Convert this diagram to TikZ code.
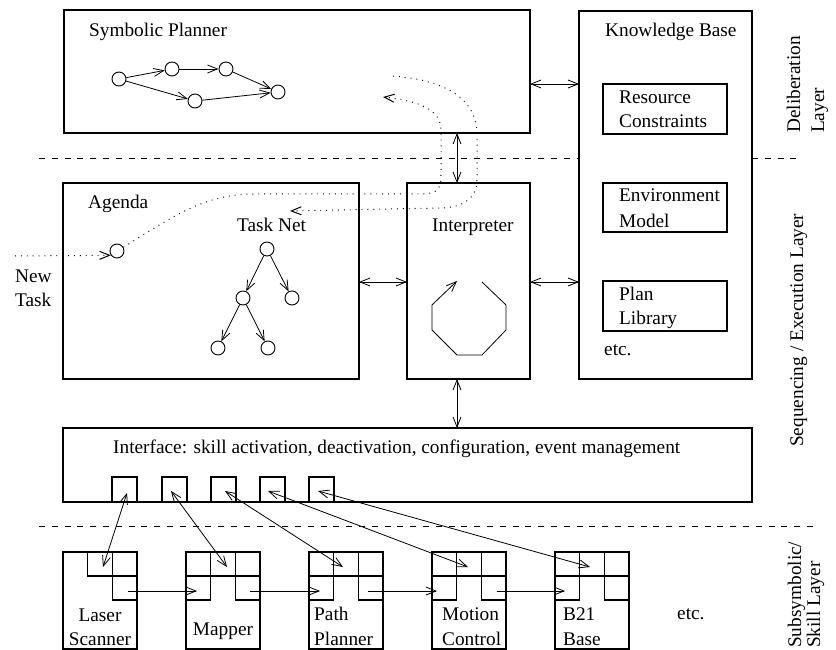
\documentclass[tikz,border=0pt]{standalone}
\usepackage{fontspec}
\setmainfont{Liberation Serif}
\usetikzlibrary{arrows.meta,calc}
\begin{document}
\begin{tikzpicture}[x=1pt,y=-1pt,
  font=\fontsize{19.3}{24}\selectfont,
  box/.style={draw, line width=1.1pt, inner sep=0pt, outer sep=0pt, anchor=north west},
  cell/.style={draw, line width=1.1pt},
  dotc/.style={circle, draw, line width=0.9pt, minimum size=14pt, inner sep=0pt},
  lbl/.style={inner sep=0pt, anchor=base west},
  lblc/.style={inner sep=0pt, anchor=base},
  conn/.style={line width=0.8pt},
  dotl/.style={line width=1pt, dash pattern=on 0.9pt off 5pt},
  layersep/.style={line width=0.9pt, dash pattern=on 6pt off 6.8pt},
  layer/.style={rotate=90, inner sep=0pt, anchor=base west},
  >={Straight Barb[length=10pt,width=8pt]}]
\useasboundingbox (0,0) rectangle (836,650);

% main boxes
\node[box, minimum width=466pt, minimum height=123pt] (planner) at (64,10) {};
\node[box, minimum width=173pt, minimum height=368pt] (kb) at (579,11) {};
\node[box, minimum width=296pt, minimum height=196pt] (agenda) at (63,183) {};
\node[box, minimum width=123pt, minimum height=196pt] (interp) at (407,183) {};
\node[box, minimum width=689pt, minimum height=74pt] (iface) at (63,428) {};
\node[box, minimum width=124pt, minimum height=50pt] (rc) at (603,84) {};
\node[box, minimum width=124pt, minimum height=49pt] (em) at (603,183) {};
\node[box, minimum width=124pt, minimum height=50pt] (pl) at (603,281) {};

% layer separators
\draw[layersep] (39,158) -- (kb.west |- 0,158);
\draw[layersep] (kb.east |- 0,158) -- (797,158);
\draw[layersep] (39,526) -- (818,526);

% texts
\node[lbl] (tsp) at (89,37) {Symbolic Planner};
\node[lbl] (tkb) at (605,37) {Knowledge Base};
\node[lbl] (tag) at (88,208) {Agenda};
\node[lbl] (ttn) at (237,232) {Task Net};
\node[lbl] (tin) at (432,232) {Interpreter};
\node[lbl] (tnew) at (15,282) {New};
\node[lbl] (ttask) at (15,306) {Task};
\node[lbl] (trc1) at (619,104) {Resource};
\node[lbl] (trc2) at (619,128) {Constraints};
\node[lbl] (tem1) at (619,202) {Environment};
\node[lbl] (tem2) at (619,227) {Model};
\node[lbl] (tpl1) at (619,300) {Plan};
\node[lbl] (tpl2) at (619,324) {Library};
\node[lbl] (tetc1) at (604,355) {etc.};
\node[lbl] (tif) at (113,453) {Interface: skill activation, deactivation, configuration, event management};

% layer labels
\node[layer] (ld1) at (800,133) {Deliberation};
\node[layer] (ld2) at (824,133) {Layer};
\node[layer] (ls) at (803,447) {Sequencing / Execution Layer};
\node[layer] (lk1) at (801,648) {Subsymbolic/};
\node[layer] (lk2) at (820,648) {Skill Layer};

% planner graph
\node[dotc] (p1) at (119,79) {};
\node[dotc] (p2) at (172,69) {};
\node[dotc] (p3) at (226,69) {};
\node[dotc] (p4) at (195,101) {};
\node[dotc] (p5) at (278,92) {};
\draw[conn,->] (p1) -- (p2);
\draw[conn,->] (p2) -- (p3);
\draw[conn,->] (p3) -- (p5);
\draw[conn,->] (p1) -- (p4);
\draw[conn,->] (p4) -- (p5);

% agenda
\node[dotc] (ac) at (117,251) {};
\node[dotc] (t0) at (267,249) {};
\node[dotc] (t1) at (243,298) {};
\node[dotc] (t2) at (292,298) {};
\node[dotc] (t3) at (218,348) {};
\node[dotc] (t4) at (268,348) {};
\draw[conn,->] (t0) -- (t1);
\draw[conn,->] (t0) -- (t2);
\draw[conn,->] (t1) -- (t3);
\draw[conn,->] (t1) -- (t4);

\coordinate (ntstart) at (15,256);
\draw[dotl,->] (ntstart) -- (ac.215);

% dotted flows
\coordinate (plin) at (383,97);
\coordinate (plout) at (393,76);
\draw[dotl,->] (ac.30) .. controls (175,215) and (205,194) .. (255,194)
  -- (420,194) .. controls (437,194) and (441,190) .. (441,175)
  -- (441,130) .. controls (441,110) and (420,101) .. (plin);
\draw[dotl,->] (plout) .. controls (440,80) and (477,95) .. (477,135)
  -- (477,180) .. controls (477,200) and (460,208) .. (440,208)
  -- (290,211);

% interpreter loop
\draw[conn,->] (482,282) -- (506,305) -- (506,330) -- (482,355) -- (457,355)
  -- (432,330) -- (432,305) -- (457,281);

% main connectors
\draw[conn,<->] (planner.east |- 0,84) -- (kb.west |- 0,84);
\draw[conn,<->] (planner.south -| 457,0) -- (interp.north -| 457,0);
\draw[conn,<->] (agenda.east |- 0,282) -- (interp.west |- 0,282);
\draw[conn,<->] (interp.east |- 0,282) -- (kb.west |- 0,282);
\draw[conn,<->] (interp.south -| 457,0) -- (iface.north -| 457,0);

% interface squares
\foreach \i/\X in {1/112,2/162,3/211,4/260,5/309}
  \node[box, minimum size=25pt] (s\i) at (\X,477) {};

% skill boxes
\foreach \i/\X in {1/63,2/186,3/309,4/432,5/555}
  \node[box, minimum width=74pt, minimum height=97pt] (sk\i) at (\X,552) {};
\foreach \X in {186,309,432,555} {
  \draw[cell] (\X,552) rectangle ++(24.667,24);
  \draw[cell] (\X+24.667,552) rectangle ++(24.667,24);
  \draw[cell] (\X+49.333,552) rectangle ++(24.667,24);
  \draw[cell] (\X,576) rectangle ++(24.667,24);
  \draw[cell] (\X+49.333,576) rectangle ++(24.667,24);
}
\draw[cell] (87.667,552) rectangle ++(24.667,24);
\draw[cell] (112.333,552) rectangle ++(24.667,24);
\draw[cell] (112.333,576) rectangle ++(24.667,24);

\node[lblc] (tls1) at (100,621) {Laser};
\node[lblc] (tls2) at (100,645) {Scanner};
\node[lblc] (tmp) at (223,635) {Mapper};
\node[lbl] (tpp1) at (314,620) {Path};
\node[lbl] (tpp2) at (314,645) {Planner};
\node[lbl] (tmc1) at (442,620) {Motion};
\node[lbl] (tmc2) at (442,645) {Control};
\node[lbl] (tb1) at (563,620) {B21};
\node[lbl] (tb2) at (563,645) {Base};
\node[lbl] (tetc2) at (677,619) {etc.};

% interface <-> skills
\draw[conn,<->] ($(s1.north west)+(15,16)$) -- ($(sk1.north west)+(40,15)$);
\draw[conn,<->] ($(s2.north west)+(9,14)$) -- ($(sk2.north west)+(41,15)$);
\draw[conn,<->] ($(s3.north west)+(14,14)$) -- ($(sk3.north west)+(34,15)$);
\draw[conn,<->] ($(s4.north west)+(8,14)$) -- ($(sk4.north west)+(36,15)$);
\draw[conn,<->] ($(s5.north west)+(9,14)$) -- ($(sk5.north west)+(35,15)$);

% skill chain
\draw[conn,->] ($(sk1.north west)+(65,39)$) -- ($(sk2.north west)+(11,39)$);
\draw[conn,->] ($(sk2.north west)+(64,39)$) -- ($(sk3.north west)+(11,39)$);
\draw[conn,->] ($(sk3.north west)+(59,39)$) -- ($(sk4.north west)+(5,39)$);
\draw[conn,->] ($(sk4.north west)+(65,39)$) -- ($(sk5.north west)+(10,39)$);
\end{tikzpicture}
\end{document}
